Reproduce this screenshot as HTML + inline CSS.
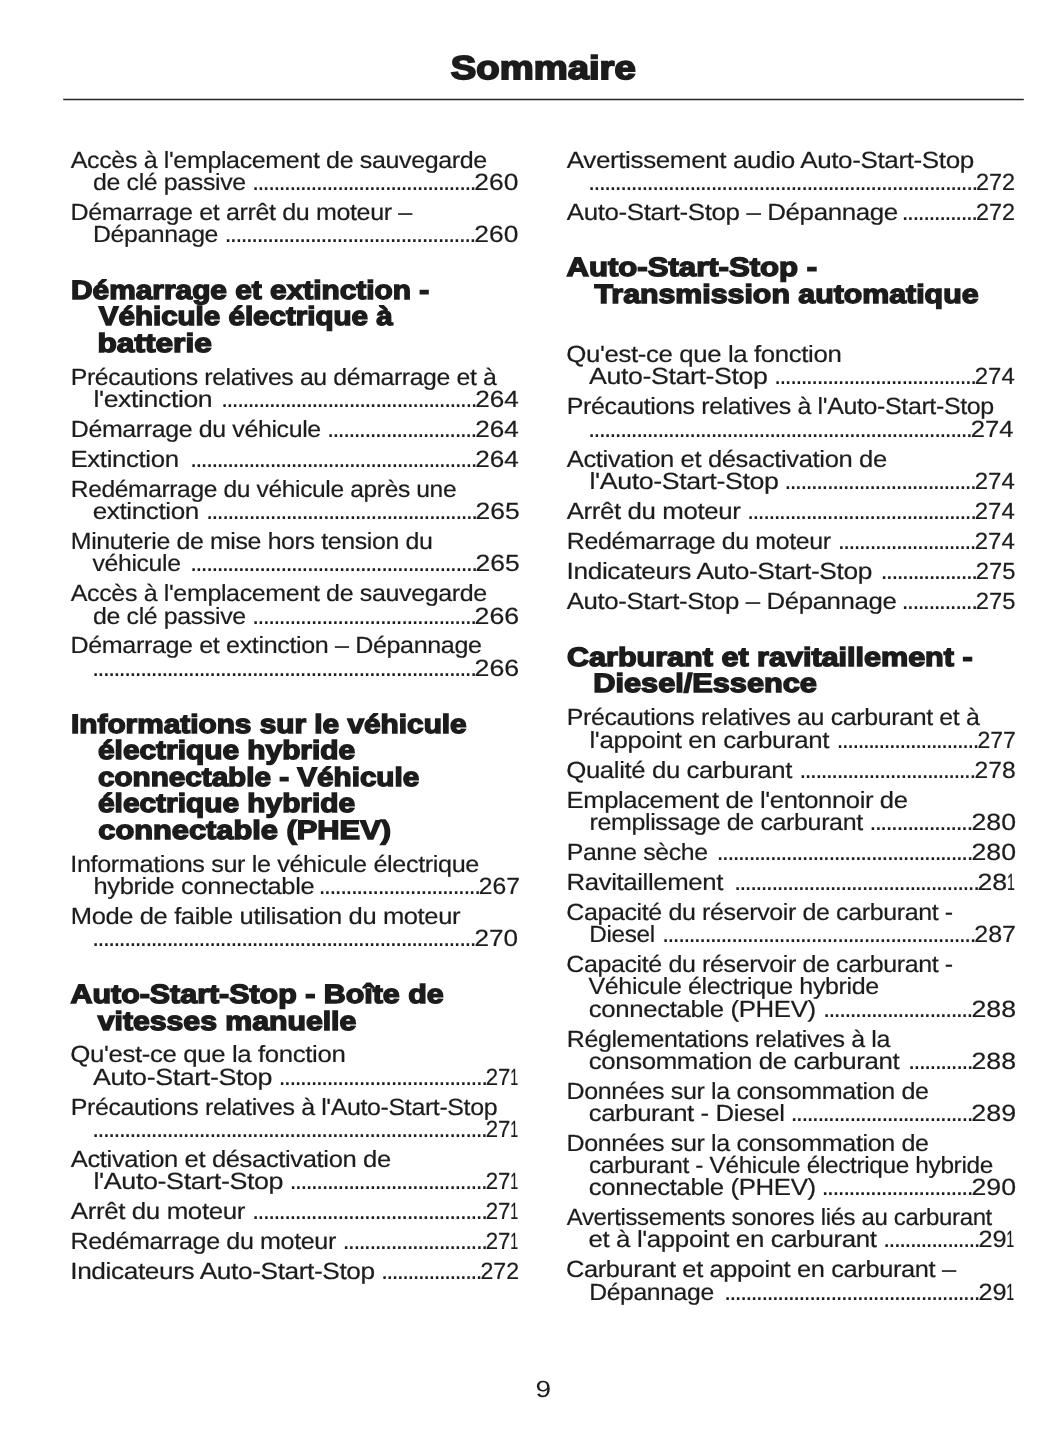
<!DOCTYPE html>
<html lang="fr">
<head>
<meta charset="utf-8">
<title>Sommaire</title>
<style>
html,body{margin:0;padding:0;background:#fff;}
body{width:1055px;height:1448px;position:relative;overflow:hidden;font-family:"Liberation Sans",sans-serif;color:#1c1c1c;text-rendering:geometricPrecision;}
.page{position:absolute;left:0;top:0;width:1055px;height:1448px;background:#fff;overflow:hidden;}
.rule{position:absolute;left:0;top:90px;width:1055px;height:20px;overflow:visible;}
.s{position:absolute;white-space:pre;transform-origin:0 0;margin:0;padding:0;display:block;font-weight:400;}
.b,.n{font-size:23.4px;line-height:26px;-webkit-text-stroke:0.2px #1c1c1c;}
.b{letter-spacing:-0.35px;}
.h{letter-spacing:0px;}
.d{font-size:26px;line-height:26px;letter-spacing:-1.9228px;}
.h{font-size:26.4px;line-height:30px;font-weight:700;-webkit-text-stroke:1.45px #1c1c1c;}
.t{font-size:33px;line-height:44px;font-weight:700;-webkit-text-stroke:1.8px #1c1c1c;}
.p{font-size:23.4px;line-height:26px;}
</style>
</head>
<body>
<div class="page">
<header><h1 class="s t" style="left:450px;top:46px;transform:translateX(0.75px) scaleX(1.1591)">Sommaire</h1><svg class="rule" width="1055" height="20" viewBox="0 0 1055 20" aria-hidden="true"><line x1="63.2" y1="9.6" x2="1023.8" y2="9.6" stroke="#262626" stroke-width="1.5"/></svg></header>
<main>
<section class="col col-l">
<div class="s b" style="left:70px;top:147px;transform:translateX(0.75px) scaleX(1.0703)">Accès à l'emplacement de sauvegarde</div>
<div class="row"><span class="s b" style="left:93px;top:169px;transform:scaleX(1.0658)">de clé passive</span><span class="s d" style="left:252px;top:168px;transform:scaleX(1.0008)">..........................................</span><span class="s n" style="left:474px;top:169px;transform:translateX(0.25px) scaleX(1.1293)">260</span></div>
<div class="s b" style="left:70px;top:199px;transform:translateX(0.5px) scaleX(1.0720)">Démarrage et arrêt du moteur –</div>
<div class="row"><span class="s b" style="left:93px;top:221px;transform:scaleX(1.0613)">Dépannage</span><span class="s d" style="left:224px;top:220px;transform:translateX(0.5px) scaleX(1.0041)">...............................................</span><span class="s n" style="left:474px;top:221px;transform:translateX(0.25px) scaleX(1.1293)">260</span></div>
<h2 class="s h" style="left:71px;top:275px;transform:scaleX(1.1311)">Démarrage et extinction -</h2>
<h2 class="s h" style="left:98px;top:301px;transform:translateX(0.75px) scaleX(1.1194)">Véhicule électrique à</h2>
<h2 class="s h" style="left:97px;top:328px;transform:translateX(0.5px) scaleX(1.1986)">batterie</h2>
<div class="s b" style="left:70px;top:364px;transform:translateX(0.75px) scaleX(1.0612)">Précautions relatives au démarrage et à</div>
<div class="row"><span class="s b" style="left:93px;top:386px;transform:translateX(0.5px) scaleX(1.1389)">l'extinction</span><span class="s d" style="left:221px;top:385px;transform:scaleX(1.0013)">................................................</span><span class="s n" style="left:475px;top:386px;transform:translateX(0.25px) scaleX(1.1166)">264</span></div>
<div class="row"><span class="s b" style="left:70px;top:416px;transform:translateX(0.75px) scaleX(1.0667)">Démarrage du véhicule</span><span class="s d" style="left:327px;top:415px;transform:scaleX(1.0015)">............................</span><span class="s n" style="left:475px;top:416px;transform:translateX(0.25px) scaleX(1.1166)">264</span></div>
<div class="row"><span class="s b" style="left:70px;top:446px;transform:translateX(0.5px) scaleX(1.1043)">Extinction</span><span class="s d" style="left:190px;top:445px;transform:scaleX(0.9985)">......................................................</span><span class="s n" style="left:475px;top:446px;transform:translateX(0.25px) scaleX(1.1166)">264</span></div>
<div class="s b" style="left:70px;top:476px;transform:translateX(0.75px) scaleX(1.0508)">Redémarrage du véhicule après une</div>
<div class="row"><span class="s b" style="left:92px;top:498px;transform:translateX(0.75px) scaleX(1.1128)">extinction</span><span class="s d" style="left:206px;top:497px;transform:scaleX(1.0001)">...................................................</span><span class="s n" style="left:475px;top:498px;transform:translateX(0.5px) scaleX(1.1322)">265</span></div>
<div class="s b" style="left:70px;top:528px;transform:translateX(0.75px) scaleX(1.0654)">Minuterie de mise hors tension du</div>
<div class="row"><span class="s b" style="left:92px;top:550px;transform:translateX(0.5px) scaleX(1.0609)">véhicule</span><span class="s d" style="left:190px;top:549px;transform:scaleX(1.0004)">......................................................</span><span class="s n" style="left:475px;top:550px;transform:translateX(0.5px) scaleX(1.1322)">265</span></div>
<div class="s b" style="left:70px;top:580px;transform:translateX(0.75px) scaleX(1.0703)">Accès à l'emplacement de sauvegarde</div>
<div class="row"><span class="s b" style="left:93px;top:603px;transform:scaleX(1.0658)">de clé passive</span><span class="s d" style="left:252px;top:602px;transform:scaleX(1.0033)">..........................................</span><span class="s n" style="left:474px;top:603px;transform:translateX(0.5px) scaleX(1.1443)">266</span></div>
<div class="s b" style="left:70px;top:632px;transform:translateX(0.5px) scaleX(1.0732)">Démarrage et extinction – Dépannage</div>
<div class="row"><span class="s d" style="left:92px;top:654px;transform:scaleX(1.0042)">........................................................................</span><span class="s n" style="left:474px;top:655px;transform:translateX(0.5px) scaleX(1.1443)">266</span></div>
<h2 class="s h" style="left:71px;top:709px;transform:scaleX(1.1289)">Informations sur le véhicule</h2>
<h2 class="s h" style="left:98px;top:735px;transform:scaleX(1.1310)">électrique hybride</h2>
<h2 class="s h" style="left:98px;top:762px;transform:scaleX(1.1231)">connectable - Véhicule</h2>
<h2 class="s h" style="left:98px;top:788px;transform:scaleX(1.1310)">électrique hybride</h2>
<h2 class="s h" style="left:98px;top:815px;transform:translateX(0.25px) scaleX(1.1672)">connectable (PHEV)</h2>
<div class="s b" style="left:70px;top:851px;transform:translateX(0.25px) scaleX(1.0785)">Informations sur le véhicule électrique</div>
<div class="row"><span class="s b" style="left:93px;top:873px;transform:translateX(0.5px) scaleX(1.0887)">hybride connectable</span><span class="s d" style="left:318px;top:872px;transform:translateX(0.5px) scaleX(1.0108)">..............................</span><span class="s n" style="left:478px;top:873px;transform:translateX(0.75px) scaleX(1.0554)">267</span></div>
<div class="s b" style="left:70px;top:903px;transform:translateX(0.75px) scaleX(1.0916)">Mode de faible utilisation du moteur</div>
<div class="row"><span class="s d" style="left:92px;top:924px;transform:scaleX(1.0031)">........................................................................</span><span class="s n" style="left:474px;top:925px;transform:translateX(0.5px) scaleX(1.1171)">270</span></div>
<h2 class="s h" style="left:70px;top:979px;transform:translateX(0.5px) scaleX(1.1518)">Auto-Start-Stop - Boîte de</h2>
<h2 class="s h" style="left:97px;top:1006px;transform:translateX(0.75px) scaleX(1.1442)">vitesses manuelle</h2>
<div class="s b" style="left:70px;top:1041px;transform:translateX(0.25px) scaleX(1.1039)">Qu'est-ce que la fonction</div>
<div class="row"><span class="s b" style="left:93px;top:1064px;transform:scaleX(1.1486)">Auto-Start-Stop</span><span class="s d" style="left:278px;top:1063px;transform:translateX(0.5px) scaleX(1.0051)">.......................................</span><span class="s n" style="left:485px;top:1064px;transform:translateX(0.75px) scaleX(0.9491)">27</span><span class="s n n1" style="left:510px;top:1064px;transform:translateX(0.25px) scaleX(0.6061)">1</span></div>
<div class="s b" style="left:70px;top:1094px;transform:translateX(0.75px) scaleX(1.0670)">Précautions relatives à l'Auto-Start-Stop</div>
<div class="row"><span class="s d" style="left:92px;top:1115px;transform:scaleX(1.0049)">..........................................................................</span><span class="s n" style="left:485px;top:1116px;transform:translateX(0.75px) scaleX(0.9491)">27</span><span class="s n n1" style="left:510px;top:1116px;transform:translateX(0.25px) scaleX(0.6061)">1</span></div>
<div class="s b" style="left:70px;top:1146px;transform:translateX(0.75px) scaleX(1.0942)">Activation et désactivation de</div>
<div class="row"><span class="s b" style="left:93px;top:1168px;transform:translateX(0.5px) scaleX(1.1501)">l'Auto-Start-Stop</span><span class="s d" style="left:289px;top:1167px;transform:translateX(0.5px) scaleX(1.0026)">.....................................</span><span class="s n" style="left:485px;top:1168px;transform:translateX(0.75px) scaleX(0.9491)">27</span><span class="s n n1" style="left:510px;top:1168px;transform:translateX(0.25px) scaleX(0.6061)">1</span></div>
<div class="row"><span class="s b" style="left:70px;top:1198px;transform:translateX(0.75px) scaleX(1.1082)">Arrêt du moteur</span><span class="s d" style="left:252px;top:1197px;transform:scaleX(1.0044)">............................................</span><span class="s n" style="left:485px;top:1198px;transform:translateX(0.75px) scaleX(0.9491)">27</span><span class="s n n1" style="left:510px;top:1198px;transform:translateX(0.25px) scaleX(0.6061)">1</span></div>
<div class="row"><span class="s b" style="left:70px;top:1228px;transform:translateX(0.5px) scaleX(1.0724)">Redémarrage du moteur</span><span class="s d" style="left:342px;top:1227px;transform:translateX(0.5px) scaleX(1.0049)">...........................</span><span class="s n" style="left:485px;top:1228px;transform:translateX(0.75px) scaleX(0.9491)">27</span><span class="s n n1" style="left:510px;top:1228px;transform:translateX(0.25px) scaleX(0.6061)">1</span></div>
<div class="row"><span class="s b" style="left:70px;top:1258px;transform:translateX(0.25px) scaleX(1.1220)">Indicateurs Auto-Start-Stop</span><span class="s d" style="left:381px;top:1257px;transform:scaleX(0.9891)">...................</span><span class="s n" style="left:480px;top:1258px;transform:translateX(0.5px) scaleX(0.9889)">272</span></div>
</section>
<section class="col col-r">
<div class="s b" style="left:566px;top:147px;transform:translateX(0.75px) scaleX(1.1132)">Avertissement audio Auto-Start-Stop</div>
<div class="row"><span class="s d" style="left:588px;top:168px;transform:scaleX(1.0042)">.........................................................................</span><span class="s n" style="left:976px;top:169px;transform:scaleX(1.0032)">272</span></div>
<div class="row"><span class="s b" style="left:566px;top:199px;transform:translateX(0.75px) scaleX(1.1083)">Auto-Start-Stop – Dépannage</span><span class="s d" style="left:901px;top:198px;transform:translateX(0.5px) scaleX(1.0099)">..............</span><span class="s n" style="left:976px;top:199px;transform:scaleX(1.0032)">272</span></div>
<h2 class="s h" style="left:566px;top:252px;transform:translateX(0.5px) scaleX(1.1792)">Auto-Start-Stop -</h2>
<h2 class="s h" style="left:594px;top:279px;transform:translateX(0.5px) scaleX(1.1485)">Transmission automatique</h2>
<div class="s b" style="left:566px;top:341px;transform:translateX(0.25px) scaleX(1.1039)">Qu'est-ce que la fonction</div>
<div class="row"><span class="s b" style="left:589px;top:363px;transform:scaleX(1.1445)">Auto-Start-Stop</span><span class="s d" style="left:774px;top:362px;transform:scaleX(0.9996)">......................................</span><span class="s n" style="left:974px;top:363px;transform:translateX(0.75px) scaleX(1.0238)">274</span></div>
<div class="s b" style="left:566px;top:393px;transform:translateX(0.75px) scaleX(1.0686)">Précautions relatives à l'Auto-Start-Stop</div>
<div class="row"><span class="s d" style="left:588px;top:415px;transform:scaleX(1.0040)">........................................................................</span><span class="s n" style="left:970px;top:416px;transform:translateX(0.75px) scaleX(1.0964)">274</span></div>
<div class="s b" style="left:566px;top:446px;transform:translateX(0.75px) scaleX(1.0942)">Activation et désactivation de</div>
<div class="row"><span class="s b" style="left:589px;top:468px;transform:translateX(0.5px) scaleX(1.1456)">l'Auto-Start-Stop</span><span class="s d" style="left:784px;top:467px;transform:translateX(0.25px) scaleX(1.0001)">....................................</span><span class="s n" style="left:974px;top:468px;transform:translateX(0.75px) scaleX(1.0238)">274</span></div>
<div class="row"><span class="s b" style="left:566px;top:498px;transform:translateX(0.75px) scaleX(1.1048)">Arrêt du moteur</span><span class="s d" style="left:747px;top:497px;transform:scaleX(1.0013)">...........................................</span><span class="s n" style="left:974px;top:498px;transform:translateX(0.75px) scaleX(1.0238)">274</span></div>
<div class="row"><span class="s b" style="left:566px;top:528px;transform:translateX(0.75px) scaleX(1.0669)">Redémarrage du moteur</span><span class="s d" style="left:837px;top:527px;transform:translateX(0.75px) scaleX(0.9951)">..........................</span><span class="s n" style="left:974px;top:528px;transform:translateX(0.75px) scaleX(1.0238)">274</span></div>
<div class="row"><span class="s b" style="left:566px;top:558px;transform:translateX(0.5px) scaleX(1.1254)">Indicateurs Auto-Start-Stop</span><span class="s d" style="left:880px;top:557px;transform:translateX(0.5px) scaleX(1.0047)">..................</span><span class="s n" style="left:975px;top:558px;transform:translateX(0.75px) scaleX(1.0146)">275</span></div>
<div class="row"><span class="s b" style="left:566px;top:588px;transform:translateX(0.75px) scaleX(1.1038)">Auto-Start-Stop – Dépannage</span><span class="s d" style="left:901px;top:587px;transform:translateX(0.5px) scaleX(1.0072)">..............</span><span class="s n" style="left:975px;top:588px;transform:translateX(0.75px) scaleX(1.0146)">275</span></div>
<h2 class="s h" style="left:567px;top:642px;transform:scaleX(1.1572)">Carburant et ravitaillement -</h2>
<h2 class="s h" style="left:593px;top:668px;transform:translateX(0.25px) scaleX(1.1639)">Diesel/Essence</h2>
<div class="s b" style="left:566px;top:704px;transform:translateX(0.75px) scaleX(1.0668)">Précautions relatives au carburant et à</div>
<div class="row"><span class="s b" style="left:589px;top:727px;transform:translateX(0.5px) scaleX(1.1059)">l'appoint en carburant</span><span class="s d" style="left:836px;top:726px;transform:translateX(0.5px) scaleX(0.9865)">...........................</span><span class="s n" style="left:977px;top:727px;transform:translateX(0.5px) scaleX(0.9844)">277</span></div>
<div class="row"><span class="s b" style="left:566px;top:757px;transform:translateX(0.25px) scaleX(1.1015)">Qualité du carburant</span><span class="s d" style="left:799px;top:756px;transform:translateX(0.25px) scaleX(1.0018)">.................................</span><span class="s n" style="left:974px;top:757px;transform:translateX(0.5px) scaleX(1.0522)">278</span></div>
<div class="s b" style="left:566px;top:787px;transform:translateX(0.5px) scaleX(1.0945)">Emplacement de l'entonnoir de</div>
<div class="row"><span class="s b" style="left:589px;top:809px;transform:translateX(0.5px) scaleX(1.0693)">remplissage de carburant</span><span class="s d" style="left:869px;top:808px;transform:translateX(0.25px) scaleX(1.0157)">...................</span><span class="s n" style="left:971px;top:809px;transform:translateX(0.5px) scaleX(1.1409)">280</span></div>
<div class="row"><span class="s b" style="left:566px;top:839px;transform:translateX(0.75px) scaleX(1.0611)">Panne sèche</span><span class="s d" style="left:716px;top:838px;transform:translateX(0.5px) scaleX(1.0030)">................................................</span><span class="s n" style="left:971px;top:839px;transform:translateX(0.5px) scaleX(1.1409)">280</span></div>
<div class="row"><span class="s b" style="left:566px;top:869px;transform:translateX(0.5px) scaleX(1.1017)">Ravitaillement</span><span class="s d" style="left:734px;top:868px;transform:scaleX(1.0015)">..............................................</span><span class="s n" style="left:977px;top:869px;transform:translateX(0.5px) scaleX(1.1406)">28</span><span class="s n n1" style="left:1007px;top:869px;transform:scaleX(0.6059)">1</span></div>
<div class="s b" style="left:566px;top:899px;transform:translateX(0.25px) scaleX(1.0683)">Capacité du réservoir de carburant -</div>
<div class="row"><span class="s b" style="left:589px;top:921px;transform:translateX(0.25px) scaleX(1.0404)">Diesel</span><span class="s d" style="left:662px;top:920px;transform:scaleX(0.9999)">...........................................................</span><span class="s n" style="left:974px;top:921px;transform:translateX(0.25px) scaleX(1.0681)">287</span></div>
<div class="s b" style="left:566px;top:951px;transform:translateX(0.25px) scaleX(1.0683)">Capacité du réservoir de carburant -</div>
<div class="s b" style="left:588px;top:973px;transform:translateX(0.5px) scaleX(1.0696)">Véhicule électrique hybride</div>
<div class="row"><span class="s b" style="left:588px;top:996px;transform:translateX(0.75px) scaleX(1.1036)">connectable (PHEV)</span><span class="s d" style="left:823px;top:995px;transform:scaleX(1.0015)">............................</span><span class="s n" style="left:971px;top:996px;transform:translateX(0.5px) scaleX(1.1411)">288</span></div>
<div class="s b" style="left:566px;top:1026px;transform:translateX(0.75px) scaleX(1.0676)">Réglementations relatives à la</div>
<div class="row"><span class="s b" style="left:588px;top:1048px;transform:translateX(0.75px) scaleX(1.1041)">consommation de carburant</span><span class="s d" style="left:908px;top:1047px;transform:scaleX(1.0047)">............</span><span class="s n" style="left:971px;top:1048px;transform:translateX(0.5px) scaleX(1.1411)">288</span></div>
<div class="s b" style="left:566px;top:1078px;transform:translateX(0.5px) scaleX(1.0713)">Données sur la consommation de</div>
<div class="row"><span class="s b" style="left:588px;top:1100px;transform:translateX(0.75px) scaleX(1.0984)">carburant - Diesel</span><span class="s d" style="left:790px;top:1099px;transform:translateX(0.5px) scaleX(1.0061)">..................................</span><span class="s n" style="left:971px;top:1100px;transform:translateX(0.25px) scaleX(1.1484)">289</span></div>
<div class="s b" style="left:566px;top:1130px;transform:translateX(0.5px) scaleX(1.0713)">Données sur la consommation de</div>
<div class="s b" style="left:589px;top:1152px;transform:scaleX(1.0441)">carburant - Véhicule électrique hybride</div>
<div class="row"><span class="s b" style="left:588px;top:1174px;transform:translateX(0.75px) scaleX(1.1036)">connectable (PHEV)</span><span class="s d" style="left:821px;top:1173px;transform:translateX(0.5px) scaleX(1.0126)">............................</span><span class="s n" style="left:971px;top:1174px;transform:translateX(0.5px) scaleX(1.1409)">290</span></div>
<div class="s b" style="left:566px;top:1204px;transform:translateX(0.75px) scaleX(1.0255)">Avertissements sonores liés au carburant</div>
<div class="row"><span class="s b" style="left:588px;top:1226px;transform:translateX(0.5px) scaleX(1.1067)">et à l'appoint en carburant</span><span class="s d" style="left:883px;top:1225px;transform:scaleX(1.0049)">..................</span><span class="s n" style="left:978px;top:1226px;transform:translateX(0.5px) scaleX(1.0843)">29</span><span class="s n n1" style="left:1006px;top:1226px;transform:translateX(0.25px) scaleX(0.6061)">1</span></div>
<div class="s b" style="left:566px;top:1256px;transform:scaleX(1.0874)">Carburant et appoint en carburant –</div>
<div class="row"><span class="s b" style="left:589px;top:1279px;transform:translateX(0.25px) scaleX(1.0568)">Dépannage</span><span class="s d" style="left:724px;top:1278px;transform:scaleX(1.0013)">................................................</span><span class="s n" style="left:978px;top:1279px;transform:translateX(0.5px) scaleX(1.0843)">29</span><span class="s n n1" style="left:1006px;top:1279px;transform:translateX(0.25px) scaleX(0.6061)">1</span></div>
</section>
</main>
<footer><div class="s p" style="left:535px;top:1376px;transform:translateX(0.5px) scaleX(1.1978)">9</div></footer>
</div>
</body>
</html>
